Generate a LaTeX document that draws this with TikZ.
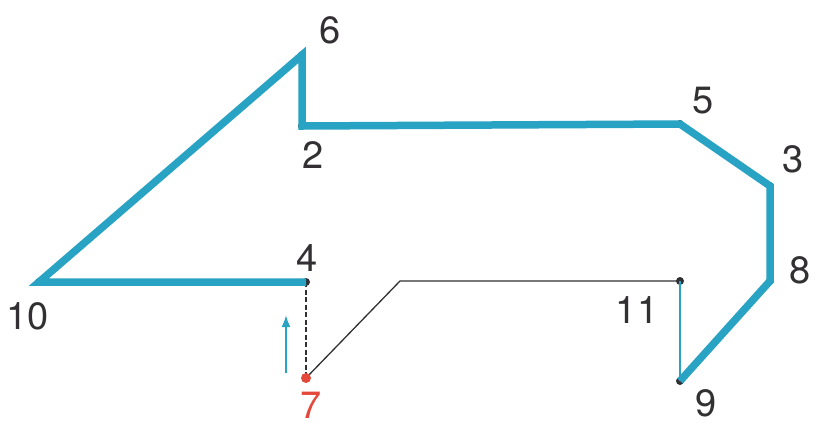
\documentclass[tikz,border=0pt]{standalone}
\usepackage{fontspec}
\setmainfont{TeX Gyre Heros}
\usetikzlibrary{arrows.meta}
\definecolor{thblue}{RGB}{41,163,196}
\definecolor{ptred}{RGB}{228,72,58}
\definecolor{ink}{RGB}{50,48,50}
\tikzset{
  thick path/.style={draw=thblue,line width=7.5pt,line join=miter},
  thin blue/.style={draw=thblue,line width=2pt},
  thin black/.style={draw=ink,line width=1.3pt},
  dash black/.style={draw=ink,line width=2.2pt,dash pattern=on 5pt off 2.5pt},
  lbl/.style={text=ink,font=\fontsize{38}{38}\selectfont,inner sep=0pt},
}
\begin{document}
\begin{tikzpicture}[x=1pt,y=-1pt]
\useasboundingbox[fill=white] (0,0) rectangle (815,426);
% points
\coordinate (p6) at (302,55);
\coordinate (p2) at (302,126);
\coordinate (p5) at (680,124);
\coordinate (p3) at (770,186);
\coordinate (p8) at (770,281);
\coordinate (p9) at (680,381);
\coordinate (p11) at (680,281);
\coordinate (p4) at (306,282);
\coordinate (p10) at (39,282);
\coordinate (p7) at (306,378);
\coordinate (bend) at (400,281);
\coordinate (atail) at (286,373);
\coordinate (ahead) at (286,315);
% dots
\foreach \p in {p6,p2,p5,p3,p8,p9,p11,p4,p10}
  \fill[ink] (\p) circle (4pt);
% lines
\draw[dash black] (p4) -- (p7);
\draw[thin black] (p7) -- (bend) -- (p11);
\draw[thin blue] (p11) -- (p9);
\draw[thick path] (p4) -- (p10) -- (p6) -- (p2) -- (p5) -- (p3) -- (p8) -- (p9);
\fill[ptred] (p7) circle (5pt);
\draw[thin blue,-{Latex[length=12pt,width=9pt]}] (atail) -- (ahead);
% labels
\node[lbl] (l6) at (330,30) {6};
\node[lbl] (l2) at (313,155) {2};
\node[lbl] (l5) at (703,101) {5};
\node[lbl] (l3) at (793,159) {3};
\node[lbl] (l8) at (800,270) {8};
\node[lbl] (l11) at (637,310) {11};
\node[lbl] (l9) at (706,403) {9};
\node[lbl] (l4) at (307,258) {4};
\node[lbl] (l10) at (28,316) {10};
\node[lbl,text=ptred] (l7) at (311,405) {7};
\end{tikzpicture}
\end{document}
